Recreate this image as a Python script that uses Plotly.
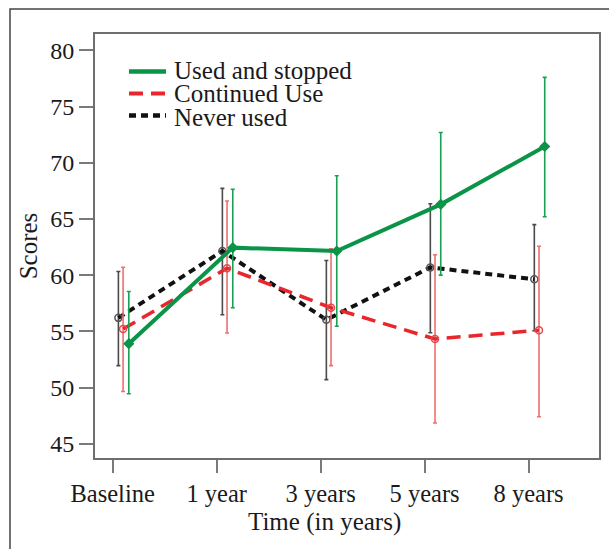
import plotly.graph_objects as go

# ---- data ----
time_labels = ["Baseline", "1 year", "3 years", "5 years", "8 years"]

stopped_mean = [53.9, 62.45, 62.15, 66.3, 71.45]
stopped_upper = [58.55, 67.65, 68.85, 72.7, 77.6]
stopped_lower = [49.45, 57.1, 55.45, 60.0, 65.2]

continued_mean = [55.2, 60.62, 57.1, 54.32, 55.1]
continued_upper = [60.7, 66.6, 62.35, 61.82, 62.57]
continued_lower = [49.65, 54.85, 51.95, 46.85, 47.4]

never_mean = [56.2, 62.15, 56.03, 60.69, 59.63]
never_upper = [60.32, 67.72, 61.3, 66.35, 64.5]
never_lower = [51.95, 56.48, 50.7, 54.88, 55.05]

series_names = ["Used and stopped", "Continued Use", "Never used"]

# ---- styles ----
FONT = "Liberation Serif"
GREEN = "#0a9447"
RED = "#e8262b"
BLACK = "#111111"
TXT = "#1a1a1a"

idx = list(range(len(time_labels)))

def trace(name, mean, upper, lower, offset, color, dash, width, ecolor, marker_symbol, mcolor):
    xs = [i + offset for i in idx]
    return go.Scatter(
        x=xs, y=mean, name=name, mode="lines+markers",
        line=dict(color=color, width=width, dash=dash),
        marker=dict(symbol=marker_symbol, size=7, color=mcolor,
                    line=dict(color=mcolor, width=1.5)),
        error_y=dict(type="data", symmetric=False,
                     array=[u - m for u, m in zip(upper, mean)],
                     arrayminus=[m - l for m, l in zip(mean, lower)],
                     color=ecolor, thickness=1.6, width=2),
        showlegend=False,
    )

fig = go.Figure()
fig.add_trace(trace(series_names[2], never_mean, never_upper, never_lower, 0.055,
                    BLACK, "7px,5px", 4, "#4a4a4a", "circle-open", "#555555"))
fig.add_trace(trace(series_names[1], continued_mean, continued_upper, continued_lower, 0.10,
                    RED, "14px,8px", 3.5, "#ee6f6f", "circle-open", "#e8484c"))
fig.add_trace(trace(series_names[0], stopped_mean, stopped_upper, stopped_lower, 0.155,
                    GREEN, "solid", 4, "#1aa055", "diamond", GREEN))

W, H = 609, 549
L, R, T, B = 95, 10, 34, 91
pw, ph = W - L - R, H - T - B

def px_x(x):
    return (x - L) / pw

def px_y(y):
    return 1 - (y - T) / ph

# outer frame
fig.add_shape(type="rect", xref="paper", yref="paper",
              x0=px_x(10), x1=px_x(640), y0=px_y(9), y1=px_y(600),
              line=dict(color="#444444", width=1.5), fillcolor="rgba(0,0,0,0)", layer="below")

# custom legend
legend_rows = [(71.5, 70.5, GREEN, "solid", 4.5),
               (93.5, 94.0, RED, "14px,8px", 4),
               (115.5, 117.0, BLACK, "7px,5px", 4.5)]
for (ly, ty, col, dsh, lw), name in zip(legend_rows, series_names):
    fig.add_shape(type="line", xref="paper", yref="paper",
                  x0=px_x(129), x1=px_x(166), y0=px_y(ly), y1=px_y(ly),
                  line=dict(color=col, width=lw, dash=dsh))
    fig.add_annotation(xref="paper", yref="paper", x=px_x(172), y=px_y(ty),
                       text=name, showarrow=False, xanchor="left", yanchor="middle",
                       font=dict(family=FONT, size=25, color=TXT))

# x title
fig.add_annotation(xref="paper", yref="paper", x=px_x(324), y=px_y(522),
                   text="Time (in years)", showarrow=False, xanchor="center", yanchor="middle",
                   font=dict(family=FONT, size=25, color=TXT))

fig.update_layout(
    width=W, height=H,
    margin=dict(l=L, r=R, t=T, b=B, autoexpand=False),
    paper_bgcolor="white", plot_bgcolor="white",
    font=dict(family=FONT, size=24, color=TXT),
    xaxis=dict(range=[-0.17, 4.677], tickmode="array", tickvals=idx, ticktext=time_labels,
               showgrid=False, zeroline=False, showline=True, mirror=True,
               linecolor="#6e6e6e", linewidth=2, ticks="outside", ticklen=13,
               tickwidth=2, tickcolor="#7a7a7a",
               tickfont=dict(family=FONT, size=24.5, color=TXT)),
    yaxis=dict(range=[43.73, 81.46], tickvals=[45, 50, 55, 60, 65, 70, 75, 80],
               showgrid=False, zeroline=False, showline=True, mirror=True,
               linecolor="#6e6e6e", linewidth=2, ticks="outside", ticklen=14,
               tickwidth=2, tickcolor="#7a7a7a",
               tickfont=dict(family=FONT, size=24, color=TXT),
               title=dict(text="Scores", font=dict(family=FONT, size=25, color=TXT),
                          standoff=5)),
)

fig.write_html("out.html")
